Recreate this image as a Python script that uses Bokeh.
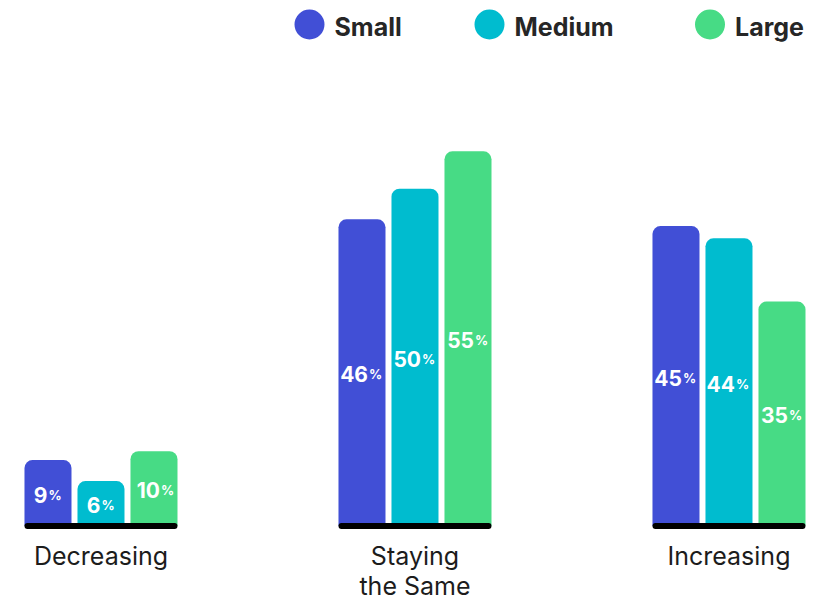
import numpy as np
from bokeh.plotting import figure
from bokeh.models import ColumnDataSource, Range1d
from bokeh.core.properties import value
from bokeh.embed import file_html
from bokeh.resources import INLINE

# ---- data ----
categories = ["Decreasing", "Staying the Same", "Increasing"]
category_labels = ["Decreasing", "Staying\nthe Same", "Increasing"]
series = ["Small", "Medium", "Large"]
small = [9.7, 45.1, 44.1]
medium = [6.6, 49.6, 42.3]
large = [11.0, 55.1, 33.0]
small_pct = ["9", "46", "45"]
medium_pct = ["6", "50", "44"]
large_pct = ["10", "55", "35"]

# ---- style ----
colors = ["#414FD6", "#00BCCF", "#47DB85"]
FONT = "Inter"
GROUP_STEP = 5.9245
BAR_W = 0.887
W, H = 810, 601
legend_circle_x = [309, 489, 709.5]

group_x = np.arange(len(categories)) * GROUP_STEP

p = figure(width=W, height=H,
           x_range=Range1d(-1.896, 13.387), y_range=Range1d(-11.103, 77.279),
           output_backend="svg", toolbar_location=None,
           x_axis_type=None, y_axis_type=None,
           min_border=0, outline_line_color=None,
           background_fill_color="white", border_fill_color="white")
p.xgrid.visible = False
p.ygrid.visible = False

values = [small, medium, large]
pcts = [small_pct, medium_pct, large_pct]
offsets = [-1, 0, 1]

for k in range(len(series)):
    vals = np.array(values[k], dtype=float)
    nums = pcts[k]
    n_off = [6.5 * len(s) - 7 for s in nums]
    src = ColumnDataSource(dict(
        x=group_x + offsets[k], top=vals, mid=vals / 2, num=nums,
        n_off=n_off, p_off=[o + 1 for o in n_off]))
    p.vbar(x="x", top="top", bottom=0, width=BAR_W, source=src,
           fill_color=colors[k], line_color=None, border_radius=(8, 8, 0, 0))
    p.text(x="x", y="mid", text="num", source=src, x_offset="n_off", y_offset=1.5,
           text_font=value(FONT), text_font_style="bold", text_font_size="21px",
           text_color="white", text_align="right", text_baseline="alphabetic")
    p.text(x="x", y="mid", text=value("%"), source=src, x_offset="p_off", y_offset=1.5,
           text_font=value(FONT), text_font_style="bold", text_font_size="13px",
           text_color="white", text_align="left", text_baseline="alphabetic")

# baselines under each group
half = 1 + BAR_W / 2 - 0.057
p.segment(x0=group_x - half, x1=group_x + half, y0=0, y1=0,
          line_color="black", line_width=6, line_cap="round")

# category labels
cat_src = ColumnDataSource(dict(
    x=group_x, y=[0] * len(categories), text=category_labels,
    yo=[30 + 15 * (s.count("\n")) for s in category_labels]))
p.text(x="x", y="y", text="text", source=cat_src,
       y_offset="yo", text_align="center", text_baseline="alphabetic",
       text_font=value(FONT), text_font_size="25px", text_line_height=1.03,
       text_color="#1c1c1c")

# legend (in pixel-like extra ranges)
p.extra_x_ranges = {"lx": Range1d(0, W)}
p.extra_y_ranges = {"ly": Range1d(H, 0)}
p.scatter(x=legend_circle_x, y=[24] * 3, size=30, marker="circle",
          fill_color=colors, line_color=None, x_range_name="lx", y_range_name="ly")
p.text(x=[c + 25 for c in legend_circle_x], y=[26] * 3, text=series,
       x_range_name="lx", y_range_name="ly",
       text_font=value(FONT), text_font_style="bold", text_font_size="25px",
       text_color="#262626", text_align="left", text_baseline="alphabetic")

open("out.html", "w").write(file_html(p, INLINE))
